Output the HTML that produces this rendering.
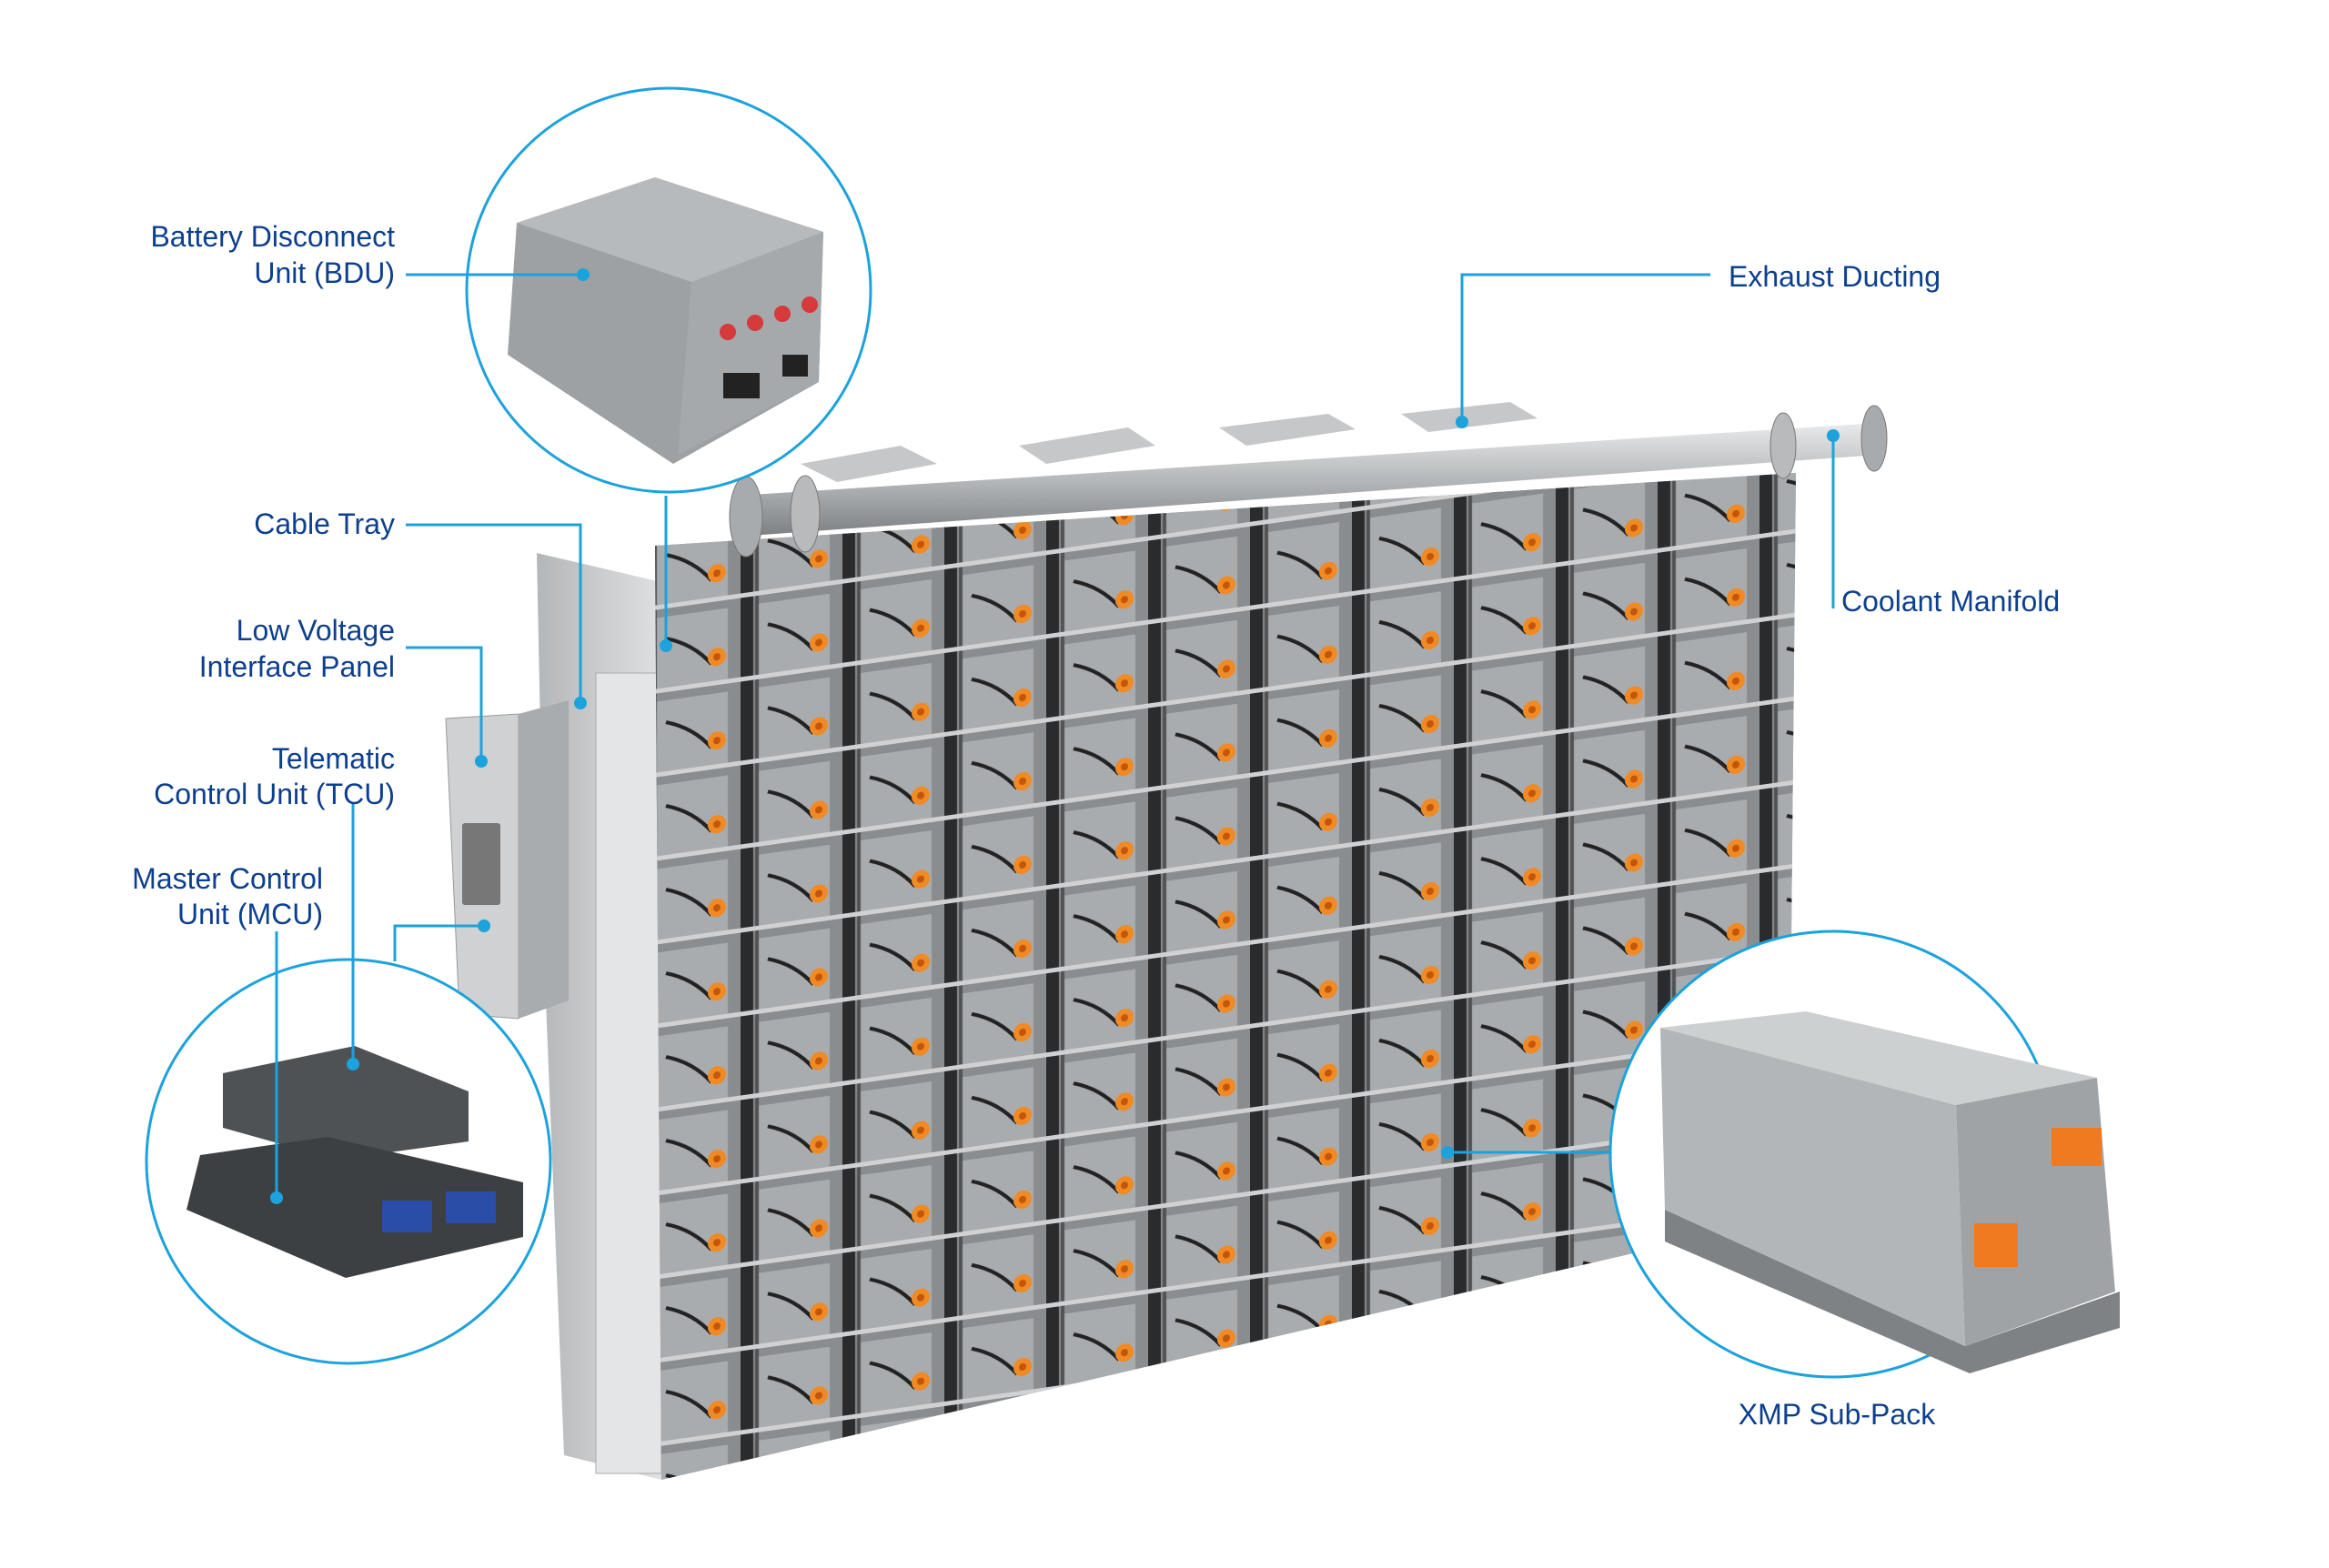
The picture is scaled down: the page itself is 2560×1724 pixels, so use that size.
<!DOCTYPE html>
<html><head><meta charset="utf-8"><style>
html,body{margin:0;padding:0;background:#fff;}
svg{display:block}
text{font-family:"Liberation Sans",sans-serif;font-size:32px;fill:#0d3f8f;}
</style></head><body>
<svg width="2560" height="1724" viewBox="0 0 2560 1724" xmlns="http://www.w3.org/2000/svg">
<defs>
<pattern id="cell" x="0" y="0" width="112" height="92" patternUnits="userSpaceOnUse" patternTransform="translate(590,600) skewY(-8)">
<rect width="112" height="92" fill="#8a8d8f"/>
<rect x="18" y="6" width="80" height="78" fill="#a9acae"/>
<rect x="0" y="0" width="14" height="92" fill="#2a2b2d"/>
<rect x="16" y="0" width="4" height="92" fill="#505254"/>
<rect x="0" y="84" width="112" height="5" fill="#cfd1d2"/>
<path d="M30 30 q30 10 50 35" stroke="#222" stroke-width="4" fill="none"/>
<circle cx="86" cy="58" r="10" fill="#f08a24"/>
<circle cx="86" cy="58" r="4" fill="#c2560a"/>
</pattern>
<linearGradient id="pipe" x1="0" y1="0" x2="0" y2="1">
<stop offset="0" stop-color="#e9eaeb"/><stop offset="0.5" stop-color="#b5b8ba"/><stop offset="1" stop-color="#7d8083"/>
</linearGradient>
<linearGradient id="side" x1="0" y1="0" x2="1" y2="0">
<stop offset="0" stop-color="#b4b7b9"/><stop offset="1" stop-color="#dfe0e1"/>
</linearGradient>
</defs>

<polygon points="590,608 727,640 727,1627 620,1600 600,1100" fill="url(#side)"/>
<rect x="655" y="740" width="72" height="880" fill="#e4e5e6" stroke="#aaa"/>
<polygon points="720,600 1974,520 1966,1338 727,1627" fill="#8e9193"/>
<polygon points="720,600 1974,520 1966,1338 727,1627" fill="url(#cell)"/>
<polygon points="880,510 990,490 1030,510 920,530" fill="#c5c7c8"/>
<polygon points="1120,490 1240,470 1270,490 1150,510" fill="#c5c7c8"/>
<polygon points="1340,470 1460,455 1490,472 1370,490" fill="#c5c7c8"/>
<polygon points="1540,455 1660,442 1690,460 1570,475" fill="#c5c7c8"/>
<polygon points="810,545 2065,465 2065,500 810,590" fill="url(#pipe)"/>
<ellipse cx="820" cy="568" rx="18" ry="44" fill="#a8abad" stroke="#777"/>
<ellipse cx="2060" cy="482" rx="14" ry="36" fill="#a8abad" stroke="#777"/>
<ellipse cx="1960" cy="490" rx="14" ry="36" fill="#b8babc" stroke="#777"/>
<ellipse cx="885" cy="565" rx="16" ry="42" fill="#b8babc" stroke="#777"/>
<polygon points="490,790 570,785 570,1120 505,1115" fill="#cfd1d2" stroke="#999"/>
<polygon points="570,785 625,770 625,1100 570,1120" fill="#a9acae"/>
<rect x="508" y="905" width="42" height="90" fill="#777" rx="3"/>

<circle cx="735" cy="319" r="222" fill="#fff" stroke="#1ca2dc" stroke-width="3"/>
<polygon points="568,245 720,195 905,255 900,420 740,510 558,390" fill="#9ea1a3"/>
<polygon points="568,245 720,195 905,255 760,310" fill="#b7babc"/>
<polygon points="760,310 905,255 900,420 745,500" fill="#a6a9ab"/>
<circle cx="800" cy="365" r="9" fill="#d63a3a"/><circle cx="830" cy="355" r="9" fill="#d63a3a"/><circle cx="860" cy="345" r="9" fill="#d63a3a"/><circle cx="890" cy="335" r="9" fill="#d63a3a"/>
<rect x="795" y="410" width="40" height="28" fill="#222"/><rect x="860" y="390" width="28" height="24" fill="#222"/>

<circle cx="383" cy="1277" r="222" fill="#fff" stroke="#1ca2dc" stroke-width="3"/>
<polygon points="245,1180 390,1150 515,1200 515,1255 370,1275 245,1240" fill="#4f5254"/>
<polygon points="220,1270 360,1250 575,1300 575,1360 380,1405 205,1330" fill="#3d4042"/>
<rect x="420" y="1320" width="55" height="35" fill="#2a4da8"/><rect x="490" y="1310" width="55" height="35" fill="#2a4da8"/>

<circle cx="2015" cy="1269" r="245" fill="#fff" stroke="#1ca2dc" stroke-width="3"/>
<polygon points="1830,1330 2160,1480 2330,1420 2330,1460 2165,1510 1830,1365" fill="#7f8284"/>
<polygon points="1825,1130 1985,1112 2305,1185 2150,1215" fill="#cdd0d1"/>
<polygon points="1825,1130 2150,1215 2160,1480 1830,1330" fill="#b3b6b8"/>
<polygon points="2150,1215 2305,1185 2325,1420 2160,1480" fill="#a0a3a5"/>
<rect x="2255" y="1240" width="55" height="42" fill="#f07a20"/>
<rect x="2170" y="1345" width="48" height="48" fill="#f07a20"/>

<g stroke="#1ca2dc" stroke-width="3" fill="none">
<polyline points="446,302 641,302"/>
<polyline points="446,577 638,577 638,773"/>
<polyline points="446,712 529,712 529,837"/>
<polyline points="388,884 388,1170"/>
<polyline points="304,1024 304,1317"/>
<polyline points="434,1057 434,1018 532,1018"/>
<polyline points="732,545 732,710"/>
<polyline points="1880,302 1607,302 1607,464"/>
<polyline points="2015,479 2015,669"/>
<polyline points="1591,1267 1771,1267"/>
</g>
<g fill="#1ca2dc">
<circle cx="641" cy="302" r="7"/><circle cx="638" cy="773" r="7"/><circle cx="529" cy="837" r="7"/>
<circle cx="388" cy="1170" r="7"/><circle cx="304" cy="1317" r="7"/><circle cx="532" cy="1018" r="7"/>
<circle cx="732" cy="710" r="7"/><circle cx="1607" cy="464" r="7"/><circle cx="2015" cy="479" r="7"/><circle cx="1591" cy="1267" r="7"/>
</g>

<g text-anchor="end">
<text x="434" y="271">Battery Disconnect</text>
<text x="434" y="311">Unit (BDU)</text>
<text x="434" y="587">Cable Tray</text>
<text x="434" y="704">Low Voltage</text>
<text x="434" y="744">Interface Panel</text>
<text x="434" y="845">Telematic</text>
<text x="434" y="884">Control Unit (TCU)</text>
<text x="355" y="977">Master Control</text>
<text x="355" y="1016">Unit (MCU)</text>
</g>
<text x="1900" y="315">Exhaust Ducting</text>
<text x="2024" y="672">Coolant Manifold</text>
<text x="2019" y="1566" text-anchor="middle">XMP Sub-Pack</text>
</svg>
</body></html>
